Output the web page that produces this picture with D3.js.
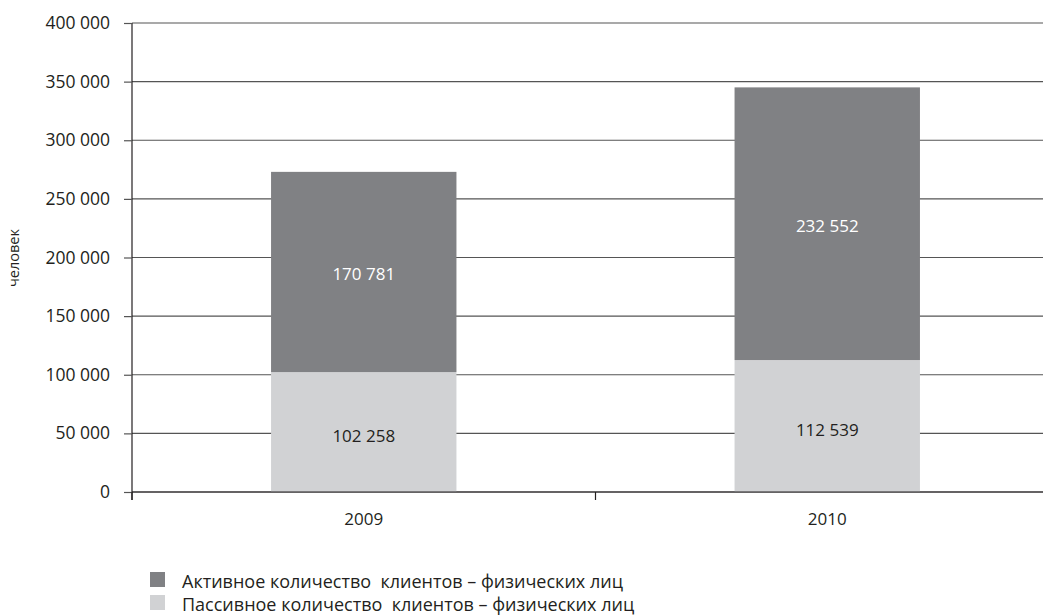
<!DOCTYPE html>
<html><head><meta charset="utf-8">
<script src="https://cdn.jsdelivr.net/npm/d3@7"></script>
<style>body{margin:0;background:#fff}svg{display:block;font-family:"Open Sans",sans-serif}</style>
</head><body>
<svg id="c" width="1043" height="616"></svg>
<script>
const years = ["2009", "2010"];
const passive = [102258, 112539];
const active = [170781, 232552];
const yTicks = [0, 50000, 100000, 150000, 200000, 250000, 300000, 350000, 400000];
const seriesNames = ["Активное количество  клиентов – физических лиц", "Пассивное количество  клиентов – физических лиц"];
const yTitle = "человек";

(function () {
const svg = d3.select("#c");
const mLeft = 132, mRight = 1059, mTop = 23, mBottom = 492;
const x = d3.scaleBand().domain(years).range([mLeft, mRight]).paddingInner(0).paddingOuter(0);
const y = d3.scaleLinear().domain([0, 400000]).range([mBottom, mTop]);
const fmt = v => d3.format(",")(v).replace(/,/g, " ");
const colActive = "#808184", colPassive = "#d1d2d4";
const ink = "#231f20";

// gridlines
svg.append("g").selectAll("line").data(yTicks).join("line")
  .attr("x1", mLeft).attr("x2", 1043).attr("y1", d => y(d)).attr("y2", d => y(d))
  .attr("stroke", "#555").attr("stroke-width", 1.2);

// bars
const bw = x.bandwidth() * 0.4;
const g = svg.append("g");
years.forEach((yr, i) => {
  const cx = x(yr) + x.bandwidth() / 2;
  g.append("rect").attr("x", cx - bw / 2).attr("width", bw)
    .attr("y", y(passive[i])).attr("height", y(0) - y(passive[i])).attr("fill", colPassive);
  g.append("rect").attr("x", cx - bw / 2).attr("width", bw)
    .attr("y", y(passive[i] + active[i])).attr("height", y(passive[i]) - y(passive[i] + active[i])).attr("fill", colActive);
  g.append("text").attr("x", cx).attr("y", y(passive[i] / 2) + 10).attr("text-anchor", "middle")
    .attr("font-size", 17).attr("fill", ink).text(fmt(passive[i]));
  g.append("text").attr("x", cx).attr("y", y(passive[i] + active[i] / 2) + 8).attr("text-anchor", "middle")
    .attr("font-size", 17).attr("fill", "#ffffff").text(fmt(active[i]));
});

// y axis
const ya = svg.append("g").attr("transform", `translate(${mLeft},0)`)
  .call(d3.axisLeft(y).tickValues(yTicks).tickSize(8).tickPadding(14).tickFormat(fmt));
ya.select(".domain").attr("d", `M0,${mTop}V${mBottom + 8}`).attr("stroke", ink).attr("stroke-width", 1.2);
ya.selectAll(".tick line").attr("stroke", "#555").attr("stroke-width", 1.2);
ya.selectAll(".tick text").attr("font-size", 17.5).attr("fill", ink).attr("font-family", "Open Sans");

// x axis
const xa = svg.append("g").attr("transform", `translate(0,${mBottom})`);
xa.append("line").attr("x1", mLeft).attr("x2", 1043).attr("y1", 0).attr("y2", 0).attr("stroke", ink).attr("stroke-width", 1.2);
const bounds = [x(years[0]), x(years[1]), x(years[1]) + x.bandwidth()];
xa.selectAll("line.t").data(bounds).join("line").attr("class", "t")
  .attr("x1", d => d).attr("x2", d => d).attr("y1", 0).attr("y2", 8).attr("stroke", ink).attr("stroke-width", 1.2);
xa.selectAll("text").data(years).join("text")
  .attr("x", d => x(d) + x.bandwidth() / 2).attr("y", 33).attr("text-anchor", "middle")
  .attr("font-size", 17).attr("fill", ink).text(d => d);

// y title
svg.append("text").attr("transform", `translate(19,258) rotate(-90)`).attr("text-anchor", "middle")
  .attr("font-size", 14.5).attr("fill", ink).text(yTitle);

// legend
const lg = svg.append("g");
[colActive, colPassive].forEach((c, i) => {
  lg.append("rect").attr("x", 150).attr("y", 572 + i * 23).attr("width", 15).attr("height", 15).attr("fill", c);
  lg.append("text").attr("x", 182).attr("y", 588 + i * 23).attr("font-size", 18).attr("fill", ink)
    .style("white-space", "pre").text(seriesNames[i]);
});
})();
</script>
</body></html>
